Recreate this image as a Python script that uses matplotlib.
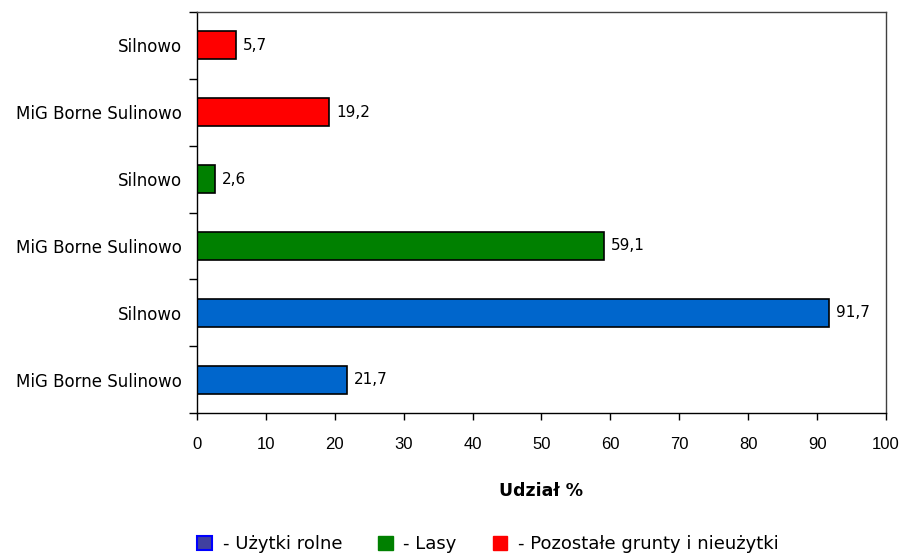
import matplotlib
matplotlib.use("Agg")
import matplotlib.pyplot as plt
from matplotlib.patches import Patch
import numpy as np

categories = ["MiG Borne Sulinowo", "Silnowo", "MiG Borne Sulinowo", "Silnowo", "MiG Borne Sulinowo", "Silnowo"]
values = [21.7, 91.7, 59.1, 2.6, 19.2, 5.7]
series_of_bar = [0, 0, 1, 1, 2, 2]
series_names = ["- Użytki rolne", "- Lasy", "- Pozostałe grunty i nieużytki"]
series_colors = ["#0066cc", "#008000", "#ff0000"]
x_ticks = [0, 10, 20, 30, 40, 50, 60, 70, 80, 90, 100]

fig = plt.figure(figsize=(9.04, 5.57), dpi=100)
ax = fig.add_axes([197/904, 1-413/557, (886-197)/904, (413-12)/557])

y = np.arange(len(values))
bars = ax.barh(y, values, height=0.42,
               color=[series_colors[s] for s in series_of_bar],
               edgecolor="black", linewidth=1.2)
for yi, v in zip(y, values):
    ax.text(v + 1.0, yi, f"{v:.1f}".replace(".", ","), va="center", ha="left",
            fontsize=11, family="DejaVu Sans")

ax.set_xlim(0, 100)
ax.set_ylim(-0.5, len(values) - 0.5)
ax.set_xticks(x_ticks)
ax.set_xticklabels([str(t) for t in x_ticks], family="Liberation Sans", fontsize=12)
ax.tick_params(axis="x", length=5, pad=12, width=1)
ax.set_yticks(y)
ax.set_yticklabels(categories, family="DejaVu Sans", fontsize=12)
ax.tick_params(axis="y", which="major", length=0, pad=11)
ax.set_yticks(np.arange(-0.5, len(values) + 0.5, 1), minor=True)
ax.tick_params(axis="y", which="minor", length=6, width=1)
for sp in ax.spines.values():
    sp.set_linewidth(1)
ax.spines["right"].set_color("#404040")
ax.spines["top"].set_color("#404040")

ax.set_xlabel("Udział %", family="DejaVu Sans", fontsize=12.5, fontweight="bold", labelpad=22)

handles = [
    Patch(facecolor="#4040a0", edgecolor="#0000ff", linewidth=1.5, label=series_names[0]),
    Patch(facecolor=series_colors[1], edgecolor=series_colors[1], label=series_names[1]),
    Patch(facecolor=series_colors[2], edgecolor=series_colors[2], label=series_names[2]),
]
leg = fig.legend(handles=handles, loc="center", bbox_to_anchor=(0.54, 1-544/557), ncol=3,
                 frameon=False, prop={"family": "DejaVu Sans", "size": 13},
                 handlelength=0.8, handleheight=0.8, handletextpad=0.6, columnspacing=2.0)

fig.savefig("out.png", dpi=100)
